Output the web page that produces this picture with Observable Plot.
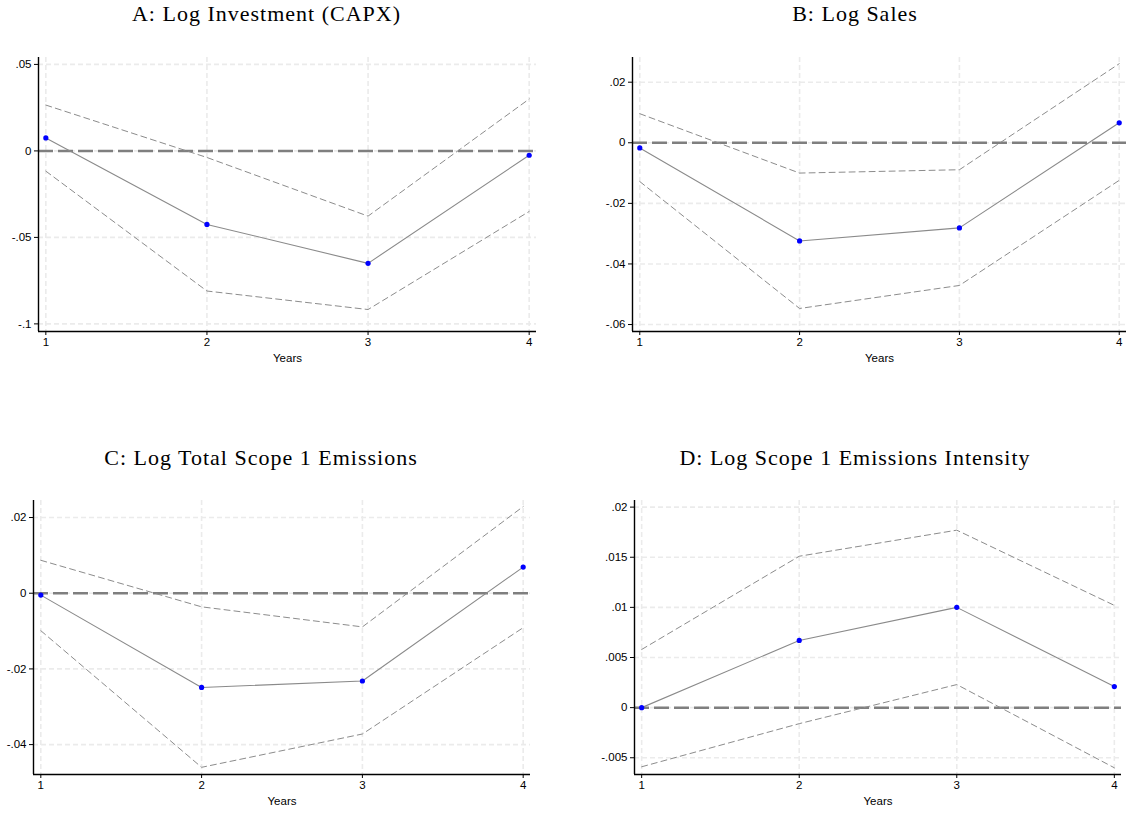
<!DOCTYPE html>
<html>
<head>
<meta charset="utf-8">
<script src="https://cdn.jsdelivr.net/npm/d3@7"></script>
<script src="https://cdn.jsdelivr.net/npm/@observablehq/plot@0.6"></script>
<style>
  html, body { margin: 0; padding: 0; background: #ffffff; }
  #page { position: relative; width: 1126px; height: 814px; overflow: hidden; background: #ffffff; }
  .panel { position: absolute; }
  .title { position: absolute; width: 500px; text-align: center; font-family: "Liberation Serif", "DejaVu Serif", serif;
           font-size: 22px; line-height: 22px; letter-spacing: 1px; color: #000; white-space: nowrap; }
</style>
</head>
<body>
<div id="page"></div>
<script>
// ---------- data ----------
const years = [1, 2, 3, 4];
const xTickLabels = ["1", "2", "3", "4"];
const xLabel = "Years";

const titleA = "A: Log Investment (CAPX)";
const estA   = [0.0075, -0.0425, -0.0650, -0.0025];
const upperA = [0.0265, -0.0038, -0.0377, 0.0300];
const lowerA = [-0.0117, -0.0810, -0.0917, -0.0350];
const yTicksA  = [-0.1, -0.05, 0, 0.05];
const yLabelsA = ["-.1", "-.05", "0", ".05"];

const titleB = "B: Log Sales";
const estB   = [-0.0017, -0.0324, -0.0281, 0.0066];
const upperB = [0.0096, -0.0100, -0.0089, 0.0261];
const lowerB = [-0.0128, -0.0547, -0.0471, -0.0124];
const yTicksB  = [-0.06, -0.04, -0.02, 0, 0.02];
const yLabelsB = ["-.06", "-.04", "-.02", "0", ".02"];

const titleC = "C: Log Total Scope 1 Emissions";
const estC   = [-0.0005, -0.0249, -0.0232, 0.0069];
const upperC = [0.0087, -0.0036, -0.0089, 0.0229];
const lowerC = [-0.0099, -0.0460, -0.0372, -0.0091];
const yTicksC  = [-0.04, -0.02, 0, 0.02];
const yLabelsC = ["-.04", "-.02", "0", ".02"];

const titleD = "D: Log Scope 1 Emissions Intensity";
const estD   = [0.0000, 0.0067, 0.0100, 0.0021];
const upperD = [0.0058, 0.0151, 0.0177, 0.0102];
const lowerD = [-0.0059, -0.0016, 0.0023, -0.0060];
const yTicksD  = [-0.005, 0, 0.005, 0.01, 0.015, 0.02];
const yLabelsD = ["-.005", "0", ".005", ".01", ".015", ".02"];

// ---------- layout ----------
const xPad = 0.0455;
const panels = [
  { title: titleA, est: estA, hi: upperA, lo: lowerA, yTicks: yTicksA, yLabels: yLabelsA, yDomain: [-0.1044, 0.054],
    box: { left: 0, top: 0, width: 563, height: 407 }, m: { l: 38, r: 27, t: 57, b: 76 }, titleX: 266.5, titleTop: 2.5 },
  { title: titleB, est: estB, hi: upperB, lo: lowerB, yTicks: yTicksB, yLabels: yLabelsB, yDomain: [-0.0623, 0.02815],
    box: { left: 563, top: 0, width: 563, height: 407 }, m: { l: 69, r: 0, t: 57, b: 76 }, titleX: 855, titleTop: 2.5 },
  { title: titleC, est: estC, hi: upperC, lo: lowerC, yTicks: yTicksC, yLabels: yLabelsC, yDomain: [-0.0479, 0.0245],
    box: { left: 0, top: 407, width: 563, height: 407 }, m: { l: 33, r: 33, t: 93, b: 40 }, titleX: 261, titleTop: 446.5 },
  { title: titleD, est: estD, hi: upperD, lo: lowerD, yTicks: yTicksD, yLabels: yLabelsD, yDomain: [-0.00667, 0.02066],
    box: { left: 563, top: 407, width: 563, height: 407 }, m: { l: 71, r: 5, t: 93, b: 40 }, titleX: 855, titleTop: 446.5 }
];

const page = document.getElementById("page");

for (const p of panels) {
  const rows = years.map((yr, i) => ({ year: yr, est: p.est[i], hi: p.hi[i], lo: p.lo[i] }));
  const xDomain = [years[0] - xPad, years[years.length - 1] + xPad];
  const chart = Plot.plot({
    width: p.box.width,
    height: p.box.height,
    marginLeft: p.m.l, marginRight: p.m.r, marginTop: p.m.t, marginBottom: p.m.b,
    style: { fontFamily: "'Liberation Sans', Arial, Helvetica, sans-serif", fontSize: "11.5px", color: "#000", background: "transparent", overflow: "visible" },
    x: { domain: xDomain },
    y: { domain: p.yDomain },
    marks: [
      Plot.ruleX(years, { stroke: "#ebebeb", strokeWidth: 1.6, strokeDasharray: "5,3" }),
      Plot.ruleY(p.yTicks, { stroke: "#ebebeb", strokeWidth: 1.6, strokeDasharray: "5,3" }),
      Plot.ruleY([0], { stroke: "#7f7f7f", strokeWidth: 2.5, strokeDasharray: "15,5" }),
      Plot.line(rows, { x: "year", y: "hi", stroke: "#8c8c8c", strokeWidth: 1, strokeDasharray: "6,4" }),
      Plot.line(rows, { x: "year", y: "lo", stroke: "#8c8c8c", strokeWidth: 1, strokeDasharray: "6,4" }),
      Plot.line(rows, { x: "year", y: "est", stroke: "#8a8a8a", strokeWidth: 1.1 }),
      Plot.dot(rows, { x: "year", y: "est", fill: "#0000ff", r: 2.6 }),
      Plot.ruleX([xDomain[0]], { stroke: "#000", strokeWidth: 1.4 }),
      Plot.ruleY([p.yDomain[0]], { stroke: "#000", strokeWidth: 1.4 }),
      Plot.axisY({ ticks: p.yTicks, tickFormat: d => p.yLabels[p.yTicks.indexOf(d)], tickSize: 4, tickPadding: 3, label: null }),
      Plot.axisX({ ticks: years, tickFormat: d => xTickLabels[years.indexOf(d)], tickSize: 4, tickPadding: 2, label: null }),
      Plot.text([xLabel], { frameAnchor: "bottom", dy: 30.5, fontSize: 11.5, fill: "#000" })
    ]
  });
  const wrap = document.createElement("div");
  wrap.className = "panel";
  wrap.style.left = p.box.left + "px";
  wrap.style.top = p.box.top + "px";
  wrap.appendChild(chart);
  page.appendChild(wrap);

  const t = document.createElement("div");
  t.className = "title";
  t.textContent = p.title;
  t.style.left = (p.titleX - 250) + "px";
  t.style.top = p.titleTop + "px";
  page.appendChild(t);
}
</script>
</body>
</html>
